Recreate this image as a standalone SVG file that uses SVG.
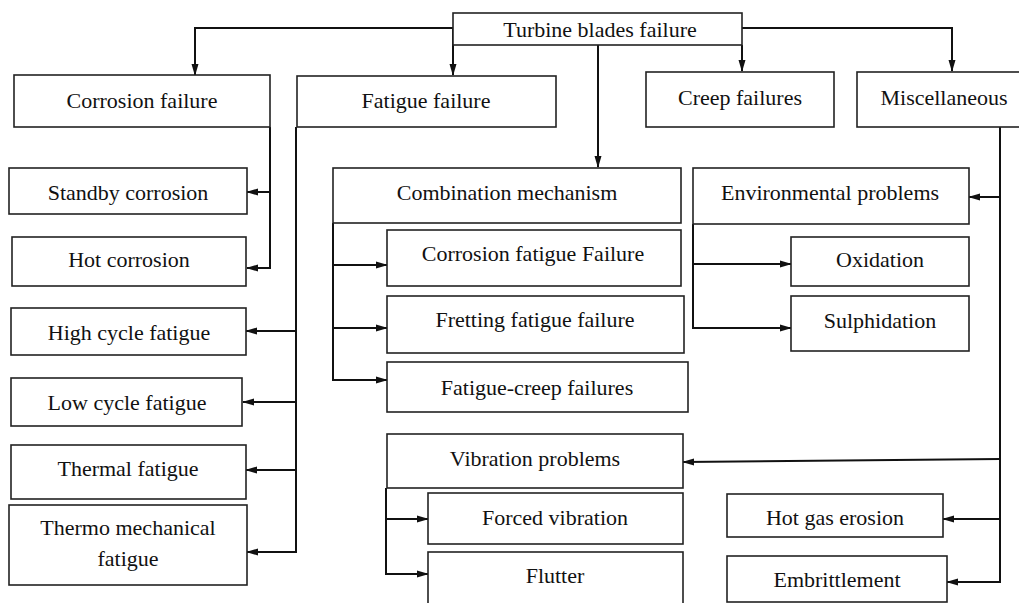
<svg xmlns="http://www.w3.org/2000/svg" width="1019" height="603" viewBox="0 0 1019 603">
<style>
.box{fill:#fff;stroke:#222;stroke-width:1.6}
.t{font-family:"Liberation Serif","Times New Roman",serif;font-size:22px;fill:#111;text-anchor:middle;dominant-baseline:central}
.c{fill:none;stroke:#111;stroke-width:2}
</style>
<defs>
<marker id="ah" markerWidth="12" markerHeight="8" refX="11" refY="4" orient="auto" markerUnits="userSpaceOnUse">
<path d="M0,0.5 L12,4 L0,7.5 Z" fill="#111"/>
</marker>
</defs>
<rect width="1019" height="603" fill="#fff"/>
<g id="connectors">
<path class="c" d="M453,28 H195 V75" marker-end="url(#ah)"/>
<path class="c" d="M453,28 V75" marker-end="url(#ah)"/>
<path class="c" d="M742,28 H952 V71" marker-end="url(#ah)"/>
<path class="c" d="M742,45 V71" marker-end="url(#ah)"/>
<path class="c" d="M598,45 V167" marker-end="url(#ah)"/>
<path class="c" d="M270,127 V268 H247" marker-end="url(#ah)"/>
<path class="c" d="M270,192 H247" marker-end="url(#ah)"/>
<path class="c" d="M296,127 V552 H247" marker-end="url(#ah)"/>
<path class="c" d="M296,331 H246" marker-end="url(#ah)"/>
<path class="c" d="M296,402 H243" marker-end="url(#ah)"/>
<path class="c" d="M296,470 H246" marker-end="url(#ah)"/>
<path class="c" d="M333,223 V380 H387" marker-end="url(#ah)"/>
<path class="c" d="M333,265 H387" marker-end="url(#ah)"/>
<path class="c" d="M333,328 H387" marker-end="url(#ah)"/>
<path class="c" d="M693,224 V328 H791" marker-end="url(#ah)"/>
<path class="c" d="M693,264 H791" marker-end="url(#ah)"/>
<path class="c" d="M1000,127 V582 H947" marker-end="url(#ah)"/>
<path class="c" d="M1000,197 H969" marker-end="url(#ah)"/>
<path class="c" d="M1000,519 H943" marker-end="url(#ah)"/>
<path class="c" d="M1000,459 L683,462" marker-end="url(#ah)"/>
<path class="c" d="M386,488 V574 H428" marker-end="url(#ah)"/>
<path class="c" d="M386,519 H428" marker-end="url(#ah)"/>
</g>
<g id="root"><rect class="box" x="453" y="13" width="289" height="32"/><text class="t" x="600" y="29">Turbine blades failure</text></g>
<g id="corrosion"><rect class="box" x="14" y="75" width="256" height="52"/><text class="t" x="142" y="100">Corrosion failure</text></g>
<g id="fatigue"><rect class="box" x="297" y="76" width="259" height="51"/><text class="t" x="426" y="100">Fatigue failure</text></g>
<g id="creep"><rect class="box" x="646" y="72" width="188" height="55"/><text class="t" x="740" y="97">Creep failures</text></g>
<g id="misc"><rect class="box" x="857" y="72" width="170" height="55"/><text class="t" x="944" y="97">Miscellaneous</text></g>
<g id="standby"><rect class="box" x="9" y="168" width="238" height="46"/><text class="t" x="128" y="192">Standby corrosion</text></g>
<g id="hotcorr"><rect class="box" x="12" y="237" width="234" height="49"/><text class="t" x="129" y="259">Hot corrosion</text></g>
<g id="highcycle"><rect class="box" x="11" y="308" width="235" height="47"/><text class="t" x="129" y="332">High cycle fatigue</text></g>
<g id="lowcycle"><rect class="box" x="11" y="378" width="231" height="48"/><text class="t" x="127" y="402">Low cycle fatigue</text></g>
<g id="thermal"><rect class="box" x="11" y="445" width="235" height="54"/><text class="t" x="128" y="468">Thermal fatigue</text></g>
<g id="thermomech"><rect class="box" x="9" y="505" width="238" height="80"/><text class="t" x="128" y="527">Thermo mechanical</text><text class="t" x="128" y="558">fatigue</text></g>
<g id="combination"><rect class="box" x="333" y="168" width="348" height="55"/><text class="t" x="507" y="192">Combination mechanism</text></g>
<g id="corrfatigue"><rect class="box" x="387" y="230" width="294" height="56"/><text class="t" x="533" y="253">Corrosion fatigue Failure</text></g>
<g id="fretting"><rect class="box" x="387" y="296" width="297" height="57"/><text class="t" x="535" y="319">Fretting fatigue failure</text></g>
<g id="fatiguecreep"><rect class="box" x="387" y="362" width="301" height="50"/><text class="t" x="537" y="387">Fatigue-creep failures</text></g>
<g id="environmental"><rect class="box" x="693" y="168" width="276" height="56"/><text class="t" x="830" y="192">Environmental problems</text></g>
<g id="oxidation"><rect class="box" x="791" y="237" width="178" height="49"/><text class="t" x="880" y="259">Oxidation</text></g>
<g id="sulphidation"><rect class="box" x="791" y="296" width="178" height="55"/><text class="t" x="880" y="320">Sulphidation</text></g>
<g id="vibration"><rect class="box" x="387" y="434" width="296" height="54"/><text class="t" x="535" y="458">Vibration problems</text></g>
<g id="forced"><rect class="box" x="428" y="493" width="255" height="51"/><text class="t" x="555" y="517">Forced vibration</text></g>
<g id="flutter"><rect class="box" x="428" y="552" width="255" height="60"/><text class="t" x="555" y="575">Flutter</text></g>
<g id="hotgas"><rect class="box" x="727" y="494" width="216" height="43"/><text class="t" x="835" y="517">Hot gas erosion</text></g>
<g id="embrittlement"><rect class="box" x="727" y="556" width="220" height="46"/><text class="t" x="837" y="579">Embrittlement</text></g>
</svg>
